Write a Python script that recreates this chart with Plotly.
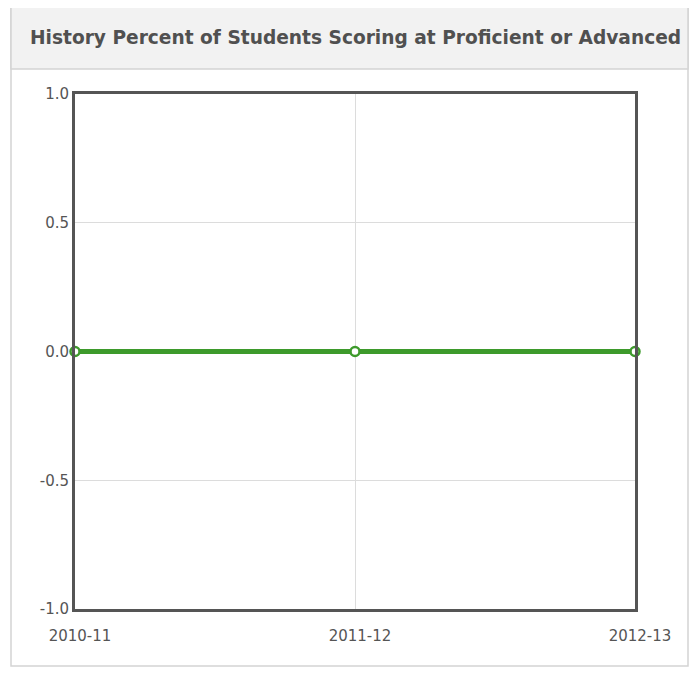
import plotly.graph_objects as go

years = ["2010-11", "2011-12", "2012-13"]
pct_proficient = [0.0, 0.0, 0.0]
y_ticks = [-1.0, -0.5, 0.0, 0.5, 1.0]
y_tick_text = ["-1.0", "-0.5", "0.0", "0.5", "1.0"]

GREEN = "#3d9a2b"
FRAME = "#555555"
TEXT = "#555555"

# the page body has an 8px margin, so the figure is drawn a little smaller
W, H = 681, 659
OFF = 8


# page pixel -> paper coords (plot area on the page is 75..635 x 94..609)
def px(x):
    return (x - 75) / 560


def py(y):
    return (609 - y) / 515


fig = go.Figure()
fig.add_trace(go.Scatter(
    x=years, y=pct_proficient, mode="lines+markers",
    line=dict(color=GREEN, width=5),
    marker=dict(size=9, color="white", line=dict(color=GREEN, width=2.5)),
    cliponaxis=False, showlegend=False, hoverinfo="skip",
))

# card border and header band
fig.add_shape(type="rect", xref="paper", yref="paper",
              x0=px(11), x1=px(688), y0=py(666), y1=py(4),
              line=dict(color="#d4d4d4", width=1.5), fillcolor="white", layer="below")
fig.add_shape(type="rect", xref="paper", yref="paper",
              x0=px(11), x1=px(688), y0=py(69), y1=py(4),
              line=dict(color="#d4d4d4", width=1.5), fillcolor="#f2f2f2", layer="below")
fig.add_annotation(
    xref="paper", yref="paper", x=px(28), y=py(38),
    text="<b>History Percent of Students Scoring at Proficient or Advanced</b>",
    showarrow=False, xanchor="left", yanchor="middle",
    font=dict(family="DejaVu Sans", size=18.6, color="#505050"),
)

fig.update_layout(
    width=W, height=H,
    paper_bgcolor="white", plot_bgcolor="white",
    margin=dict(l=75 - OFF, r=W - (635 - OFF), t=94 - OFF, b=H - (609 - OFF)),
    font=dict(family="DejaVu Sans", size=15, color=TEXT),
    xaxis=dict(
        type="category", range=[0, 2], showgrid=True, gridcolor="#dcdcdc", gridwidth=1,
        showline=True, mirror=True, linecolor=FRAME, linewidth=3,
        ticks="", ticklabelstandoff=11, ticklabelshift=5, zeroline=False,
    ),
    yaxis=dict(
        range=[-1, 1], tickvals=y_ticks, ticktext=y_tick_text,
        showgrid=True, gridcolor="#dcdcdc", gridwidth=1,
        showline=True, mirror=True, linecolor=FRAME, linewidth=3,
        ticks="", zeroline=False, ticklabelstandoff=0,
    ),
)

fig.write_html("out.html")
